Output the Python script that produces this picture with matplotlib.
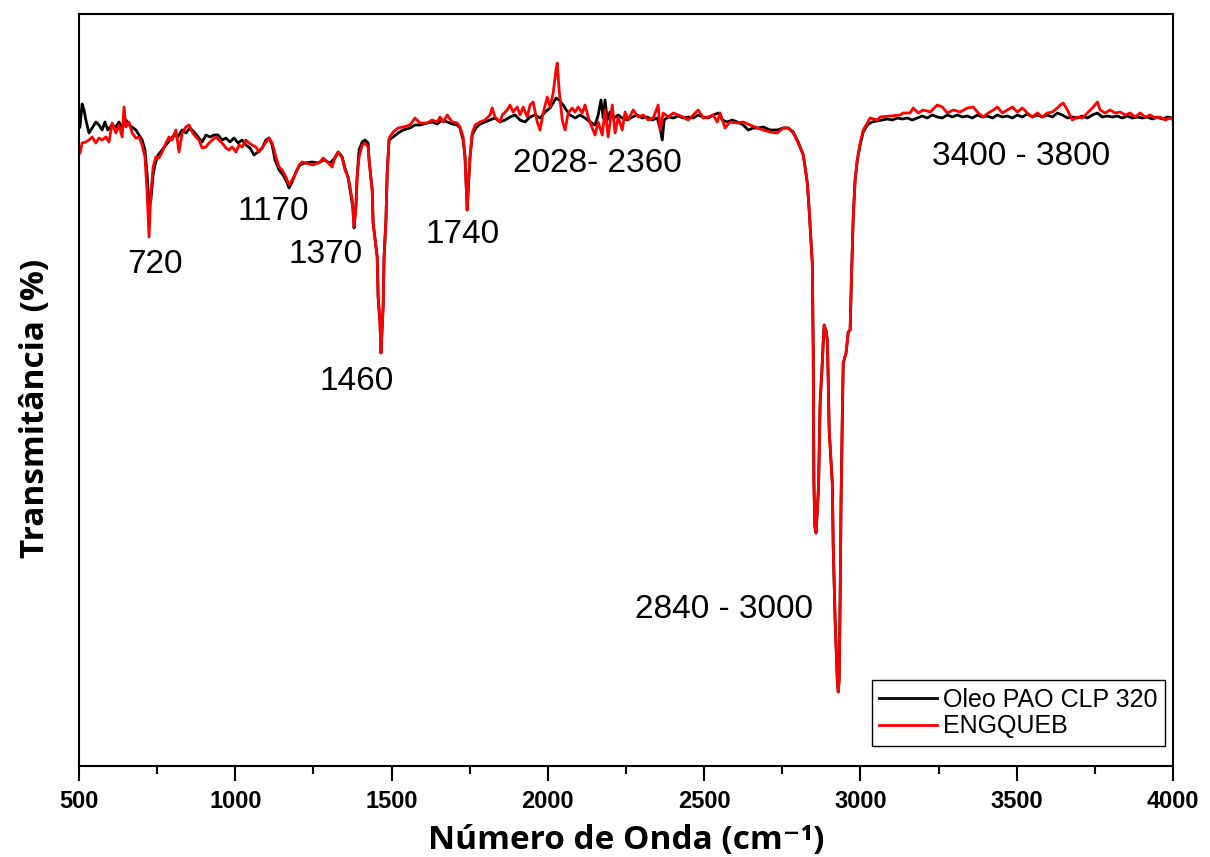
import matplotlib.pyplot as plt
import numpy as np

# FTIR spectra, wavenumber (cm-1) vs transmittance (arbitrary %)
# bands shared by both samples (the curves overlap there)
band_1460_wn = [1428, 1438, 1441, 1454, 1457, 1463, 1466, 1473, 1476, 1482, 1486]
band_1460_t = [60.6, 57.6, 54.3, 50.9, 46.9, 44.3, 41.3, 45.9, 50.9, 54.6, 59.3]

band_1740_wn = [1735, 1742, 1745, 1751]
band_1740_t = [60.9, 55.6, 57.6, 60.9]

band_ch_wn = [2807, 2817, 2823, 2830, 2836, 2846, 2849, 2851, 2854, 2858, 2866, 2871,
              2878, 2881, 2884, 2890, 2894, 2897, 2900, 2910, 2913, 2919, 2926, 2929,
              2932, 2935, 2938, 2942, 2945, 2954, 2961, 2967, 2972, 2977, 2983, 2990]
band_ch_t = [61.9, 61.1, 59.9, 58.3, 55.6, 50.3, 41.6, 28.6, 24.0, 23.3, 27.9, 36.3,
             40.3, 42.4, 44.1, 43.5, 42.6, 38.6, 33.6, 28.3, 21.9, 14.6, 8.6, 7.4,
             8.6, 16.6, 26.4, 34.9, 40.3, 41.3, 43.4, 43.6, 49.6, 54.9, 58.6, 60.6]

# ENGQUEB (red)
red_low_wn = [503, 510, 522, 532, 542, 554, 564, 574, 586, 596, 606, 618, 628, 638, 644,
              650, 660, 670, 682, 692, 702, 711, 718, 724, 730, 737, 746, 756, 766, 778,
              788, 798, 810, 820, 830, 842, 852, 862, 874, 884, 894, 906, 916, 926, 938,
              948, 958, 970, 980, 990, 1002, 1012, 1022, 1034, 1044, 1054, 1066, 1076,
              1086, 1098, 1108, 1118, 1130, 1140, 1150, 1162, 1172, 1182, 1194, 1204,
              1214, 1226, 1249, 1271, 1281, 1294, 1310, 1319, 1329, 1342, 1351, 1361,
              1367, 1374, 1377, 1380, 1386, 1390, 1396, 1406, 1415, 1425]
red_low_t = [61.3, 62.3, 62.4, 62.6, 62.9, 62.3, 62.8, 62.6, 62.9, 62.4, 64.3, 63.3, 64.1,
             62.9, 65.9, 63.9, 64.4, 63.3, 62.8, 62.9, 62.1, 60.9, 57.3, 52.9, 57.3, 59.9,
             60.9, 60.8, 61.4, 62.3, 62.9, 62.6, 63.6, 61.4, 63.3, 63.9, 64.1, 63.4, 62.9,
             62.6, 61.8, 61.9, 62.3, 62.6, 62.9, 62.6, 62.3, 61.8, 61.6, 61.9, 61.4, 62.1,
             61.9, 62.6, 62.3, 62.1, 61.9, 61.4, 61.8, 62.4, 62.8, 62.3, 60.9, 59.9, 59.6,
             58.9, 58.1, 58.6, 59.3, 60.1, 60.4, 60.3, 60.1, 60.4, 60.8, 60.4, 59.9, 60.9,
             61.4, 60.8, 59.6, 58.9, 57.9, 56.6, 55.3, 53.9, 55.9, 58.9, 60.9, 62.1, 62.3,
             61.9]
red_mid_wn = [1492, 1505, 1521, 1537, 1559, 1575, 1591, 1614, 1630, 1646, 1655, 1665,
              1678, 1694, 1710, 1719, 1729]
red_mid_t = [62.8, 63.4, 63.8, 63.9, 64.1, 64.8, 64.3, 64.3, 64.6, 64.4, 64.9, 64.4,
             65.1, 64.4, 64.3, 63.9, 62.9]
red_high_wn = [1758, 1767, 1783, 1799, 1815, 1822, 1831, 1847, 1854, 1870, 1879, 1889,
               1902, 1911, 1921, 1934, 1943, 1953, 1966, 1975, 1985, 1998, 2007, 2017,
               2026, 2030, 2036, 2046, 2055, 2065, 2078, 2087, 2097, 2110, 2119, 2129,
               2142, 2151, 2161, 2174, 2183, 2193, 2206, 2215, 2225, 2238, 2247, 2257,
               2273, 2289, 2305, 2321, 2337, 2353, 2359, 2369, 2385, 2401, 2417, 2433,
               2449, 2465, 2481, 2497, 2513, 2529, 2542, 2551, 2567, 2583, 2606, 2625,
               2647, 2670, 2689, 2711, 2734, 2753, 2769, 2785, 2801]
red_high_t = [63.3, 64.1, 64.4, 64.6, 65.1, 65.8, 64.9, 64.4, 65.1, 65.6, 66.1, 65.4,
              65.9, 65.1, 65.9, 64.9, 66.1, 66.4, 64.4, 63.6, 65.3, 66.9, 65.9, 67.3,
              69.6, 70.3, 67.6, 64.6, 63.6, 65.3, 65.8, 65.4, 65.9, 65.3, 66.1, 64.9,
              63.8, 63.1, 64.4, 63.1, 65.6, 62.9, 66.1, 63.3, 64.9, 63.6, 65.4, 64.6,
              65.6, 64.9, 65.1, 64.6, 64.8, 66.1, 63.6, 65.3, 64.9, 65.3, 65.1, 64.9,
              64.6, 65.1, 65.6, 64.8, 64.9, 65.1, 64.4, 65.3, 63.8, 64.4, 64.3, 64.4,
              64.1, 63.8, 63.6, 63.4, 63.3, 63.8, 63.8, 63.3, 62.3]
red_top_wn = [2999, 3009, 3022, 3031, 3054, 3063, 3095, 3127, 3137, 3159, 3169, 3185,
              3201, 3223, 3246, 3262, 3278, 3297, 3319, 3342, 3361, 3377, 3393, 3409,
              3425, 3438, 3454, 3470, 3486, 3502, 3518, 3534, 3550, 3566, 3582, 3598,
              3614, 3630, 3639, 3649, 3662, 3678, 3694, 3710, 3726, 3742, 3758, 3767,
              3783, 3799, 3815, 3831, 3847, 3863, 3879, 3895, 3911, 3927, 3943, 3959,
              3975, 3991, 4000]
red_top_t = [62.3, 63.6, 64.3, 64.8, 64.6, 64.9, 65.0, 65.1, 65.3, 65.3, 65.8, 65.3,
             65.6, 65.4, 66.1, 65.9, 65.3, 65.6, 65.4, 65.8, 65.9, 65.3, 64.9, 65.3,
             65.6, 65.9, 65.3, 65.6, 65.9, 65.4, 65.8, 65.3, 64.9, 65.3, 64.9, 65.3,
             65.4, 65.8, 66.1, 66.3, 65.6, 64.6, 64.9, 64.8, 65.3, 65.8, 66.4, 65.6,
             65.3, 65.6, 65.3, 65.4, 65.1, 65.3, 64.9, 65.3, 64.9, 65.1, 64.8, 64.9,
             64.6, 64.8, 64.6]

# Oleo PAO CLP 320 (black)
blk_low_wn = [503, 510, 516, 522, 532, 542, 554, 564, 574, 583, 592, 606, 618, 628, 638,
              650, 660, 673, 682, 692, 702, 711, 718, 724, 730, 737, 743, 753, 766, 778,
              791, 804, 816, 830, 842, 855, 868, 881, 894, 906, 919, 932, 945, 958, 970,
              983, 996, 1009, 1022, 1034, 1047, 1060, 1073, 1086, 1098, 1108, 1118, 1127,
              1140, 1153, 1166, 1172, 1182, 1194, 1207, 1223, 1246, 1265, 1284, 1303,
              1319, 1329, 1342, 1351, 1361, 1370, 1377, 1380, 1386, 1390, 1396, 1406,
              1415, 1425]
blk_low_t = [63.9, 66.2, 65.6, 64.6, 63.3, 63.8, 64.4, 64.1, 63.6, 64.4, 63.6, 64.1, 63.9,
             64.4, 63.8, 64.6, 64.1, 63.8, 63.6, 63.1, 62.6, 61.6, 59.1, 56.1, 56.6, 59.1,
             60.1, 61.1, 61.6, 62.1, 62.6, 63.1, 62.9, 63.6, 63.3, 63.8, 63.4, 62.9, 62.4,
             63.1, 62.9, 63.1, 63.1, 62.6, 62.8, 62.4, 62.8, 62.3, 62.6, 62.1, 61.8, 61.1,
             61.4, 61.8, 62.6, 62.8, 62.1, 60.6, 59.6, 59.1, 58.3, 57.8, 58.4, 59.4, 60.1,
             60.3, 60.4, 60.3, 60.6, 60.3, 60.8, 61.4, 60.9, 59.8, 58.8, 57.1, 55.6, 53.8,
             56.1, 59.1, 61.6, 62.4, 62.6, 62.3]
blk_mid_wn = [1492, 1505, 1521, 1537, 1559, 1575, 1591, 1614, 1630, 1646, 1662, 1678,
              1694, 1710, 1719, 1729]
blk_mid_t = [62.6, 62.9, 63.3, 63.6, 63.8, 64.1, 64.1, 64.3, 64.4, 64.2, 64.6, 64.4,
             64.2, 64.1, 63.8, 62.6]
blk_high_wn = [1758, 1770, 1783, 1799, 1815, 1831, 1847, 1863, 1879, 1895, 1911, 1927,
               1943, 1959, 1975, 1991, 2007, 2017, 2026, 2036, 2049, 2059, 2071, 2087,
               2103, 2119, 2135, 2151, 2161, 2170, 2177, 2183, 2190, 2199, 2212, 2225,
               2238, 2254, 2270, 2286, 2302, 2318, 2334, 2350, 2359, 2366, 2372, 2385,
               2401, 2417, 2433, 2449, 2465, 2481, 2497, 2513, 2529, 2545, 2558, 2574,
               2590, 2606, 2625, 2641, 2657, 2673, 2689, 2711, 2734, 2753, 2769, 2785,
               2801]
blk_high_t = [63.1, 63.8, 64.2, 64.4, 64.6, 64.8, 64.4, 64.6, 64.9, 65.1, 64.6, 64.4,
              64.9, 65.1, 64.8, 65.4, 65.8, 66.3, 66.8, 66.6, 66.1, 65.6, 65.1, 64.8,
              65.1, 64.8, 64.4, 64.1, 65.1, 66.6, 64.8, 66.6, 64.6, 65.4, 64.8, 65.1,
              64.8, 64.6, 64.9, 65.1, 64.8, 64.9, 64.6, 64.8, 63.8, 62.6, 64.6, 64.9,
              64.8, 65.0, 64.8, 64.9, 64.8, 65.1, 64.9, 64.8, 65.1, 65.3, 64.6, 64.4,
              64.6, 64.4, 64.1, 63.6, 63.8, 63.8, 63.9, 63.6, 63.6, 63.8, 63.8, 63.4,
              62.4]
blk_top_wn = [2999, 3009, 3022, 3037, 3054, 3070, 3086, 3102, 3118, 3134, 3150, 3166,
              3182, 3198, 3214, 3230, 3246, 3262, 3278, 3294, 3310, 3326, 3342, 3358,
              3374, 3390, 3406, 3422, 3438, 3454, 3470, 3486, 3502, 3518, 3534, 3550,
              3566, 3582, 3598, 3614, 3630, 3646, 3662, 3678, 3694, 3710, 3726, 3742,
              3758, 3774, 3790, 3806, 3822, 3838, 3854, 3870, 3886, 3902, 3918, 3934,
              3950, 3966, 3982, 4000]
blk_top_t = [62.1, 63.4, 64.1, 64.4, 64.5, 64.6, 64.7, 64.6, 64.8, 64.7, 64.8, 64.6,
             64.8, 65.0, 64.8, 65.1, 64.9, 64.8, 65.1, 64.9, 65.1, 64.9, 65.0, 64.8,
             65.1, 64.9, 65.0, 64.8, 65.1, 64.9, 65.0, 64.8, 65.1, 64.9, 65.2, 64.9,
             65.1, 64.9, 65.1, 64.9, 65.3, 65.1, 64.8, 64.9, 64.8, 65.0, 64.8, 65.1,
             65.3, 64.9, 65.0, 64.9, 65.0, 64.8, 65.0, 64.8, 64.9, 64.8, 64.9, 64.7,
             64.9, 64.7, 64.9, 64.8]

# peak annotations: text, left x (cm-1), baseline y
peak_labels = ["720", "1170", "1370", "1460", "1740", "2028- 2360", "3400 - 3800", "2840 - 3000"]
peak_x = [654, 1006, 1169, 1271, 1607, 1889, 3230, 2279]
peak_y = [49.3, 54.6, 50.3, 37.6, 52.3, 59.4, 60.1, 14.8]


def join(*parts):
    return np.concatenate([np.asarray(p, dtype=float) for p in parts])


red_wn = join(red_low_wn, band_1460_wn, red_mid_wn, band_1740_wn, red_high_wn, band_ch_wn, red_top_wn)
red_t = join(red_low_t, band_1460_t, red_mid_t, band_1740_t, red_high_t, band_ch_t, red_top_t)
blk_wn = join(blk_low_wn, band_1460_wn, blk_mid_wn, band_1740_wn, blk_high_wn, band_ch_wn, blk_top_wn)
blk_t = join(blk_low_t, band_1460_t, blk_mid_t, band_1740_t, blk_high_t, band_ch_t, blk_top_t)

fig = plt.figure(figsize=(12.1, 8.57), dpi=100)
ax = fig.add_axes([79 / 1210, 91 / 857, 1094 / 1210, 752 / 857])

ax.plot(blk_wn, blk_t, color="black", linewidth=2.0, label="Oleo PAO CLP 320")
ax.plot(red_wn, red_t, color="#ff0000", linewidth=2.0, label="ENGQUEB")

for txt, x, y in zip(peak_labels, peak_x, peak_y):
    ax.text(x, y, txt, fontsize=24, family="Liberation Sans", ha="left", va="baseline")

ax.set_xlim(500, 4000)
ax.set_ylim(0, 75.2)
ax.set_xticks(np.arange(500, 4001, 500))
ax.set_xticks(np.arange(750, 4000, 500), minor=True)
ax.set_yticks([])
ax.tick_params(axis="x", which="major", direction="out", length=11, width=1.5, pad=6)
ax.tick_params(axis="x", which="minor", direction="out", length=6, width=1.5)
for lbl in ax.get_xticklabels():
    lbl.set_fontfamily("Liberation Sans")
    lbl.set_fontweight("bold")
    lbl.set_fontsize(17)
for sp in ax.spines.values():
    sp.set_linewidth(1.5)

ax.set_xlabel("Número de Onda (cm⁻¹)", fontsize=24, fontweight="bold",
              family=["Open Sans", "DejaVu Sans"], labelpad=8)
ax.set_ylabel("Transmitância (%)", fontsize=24, fontweight="bold", family="Open Sans")
ax.yaxis.set_label_coords(-0.025, 0.476)

leg = ax.legend(loc="lower right", bbox_to_anchor=(0.9927, 0.0266), borderaxespad=0,
                prop={"family": "Liberation Sans", "size": 18}, fancybox=False,
                edgecolor="black", framealpha=1, handlelength=2.3, handletextpad=0.25,
                labelspacing=0.1, borderpad=0.3)
leg.get_frame().set_linewidth(1.0)

fig.savefig("out.png", dpi=100)
